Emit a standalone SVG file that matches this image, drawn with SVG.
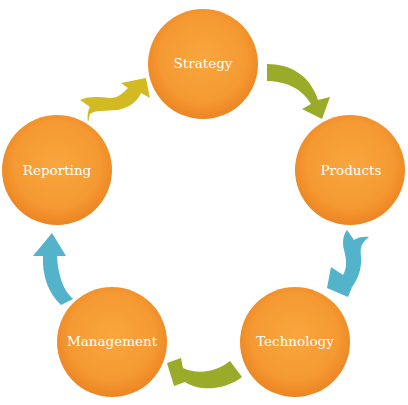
<svg xmlns="http://www.w3.org/2000/svg" width="408" height="405" viewBox="0 0 408 405">
<defs>
<radialGradient id="orb" cx="50%" cy="45%" r="55%">
<stop offset="0" stop-color="#F9A63E"/>
<stop offset="0.7" stop-color="#F59A32"/>
<stop offset="1" stop-color="#EC8522"/>
</radialGradient>
<style>
.node circle{fill:url(#orb);}
.node text{fill:#ffffff;font-family:"DejaVu Serif","Liberation Serif",serif;font-size:13.5px;text-anchor:middle;}
.green{fill:#9AAB29;}
.blue{fill:#52B3CA;}
.yellow{fill:#D2BA22;}
</style>
</defs>
<rect width="408" height="405" fill="#ffffff"/>
<g id="connectors">
<path class="green" d="M267,64 C290,64 310,75 318,100 L330,97 L322,119 L302,109 L311,104 C303,90 287,81 267,81 Z"/>
<path class="blue" d="M347,230 L354,240 C358,237 364,236 369,237 C361,243 360,248 361,256 C362,266 359,278 352,287 L348,297 L327,288 L331,267 L343,275 C348,266 346,258 344,250 C342,243 343,235 347,230 Z"/>
<path class="green" d="M167,363 L181,358 L183,368 C198,375 216,372 230,361 L242,377 C225,390 200,392 185,382 L174,386 Z"/>
<path class="blue" d="M52,233 L66,256 L57,256 C58,275 63,290 73,299 L61,305 C48,293 42,275 43,256 L33,256 Z"/>
<path class="yellow" d="M80,100 C90,96 100,97 110,98 C118,98 123,93 128,88 L121,83 L146,78 L150,98 L141,93 C137,102 130,107 118,110 C105,111 95,110 90,114 L88,122 C87,116 88,110 90,107 Z"/>
</g>
<g id="strategy" class="node"><circle cx="203" cy="64" r="55"/><text x="203" y="68">Strategy</text></g>
<g id="products" class="node"><circle cx="350" cy="170" r="55"/><text x="351" y="175">Products</text></g>
<g id="technology" class="node"><circle cx="295" cy="342" r="55"/><text x="295" y="346">Technology</text></g>
<g id="management" class="node"><circle cx="112" cy="342" r="55"/><text x="112" y="346">Management</text></g>
<g id="reporting" class="node"><circle cx="57" cy="170" r="55"/><text x="57" y="175">Reporting</text></g>
</svg>
